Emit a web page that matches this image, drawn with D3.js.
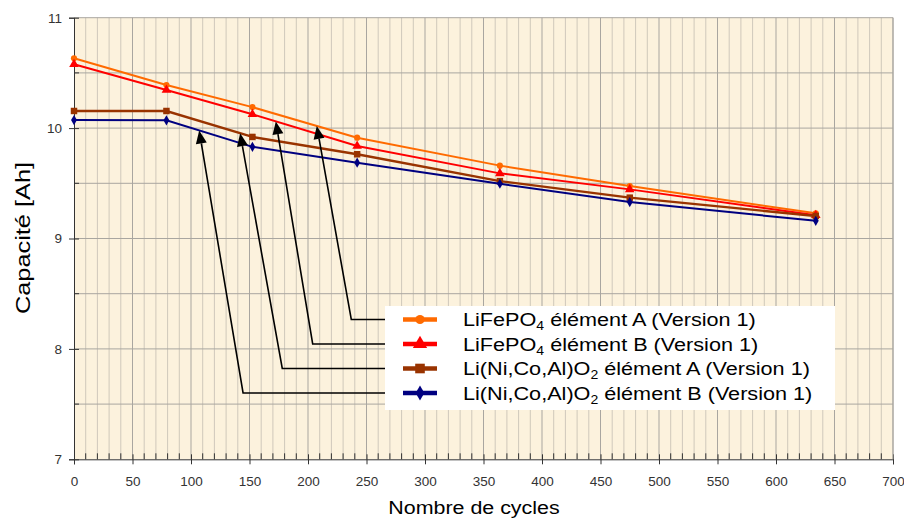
<!DOCTYPE html>
<html><head><meta charset="utf-8">
<script src="https://cdn.jsdelivr.net/npm/d3@7"></script>
<style>body{margin:0;background:#fff}svg{display:block}</style>
</head><body><svg id="c" width="904" height="520"></svg>
<script>
// ---- data ----
const cycles = [0, 79, 152.5, 242, 364, 475, 634];
const lfpA = [10.632, 10.39, 10.19, 9.913, 9.66, 9.475, 9.228];
const lfpB = [10.578, 10.345, 10.125, 9.838, 9.59, 9.445, 9.21];
const ncaA = [10.155, 10.155, 9.92, 9.763, 9.52, 9.37, 9.204];
const ncaB = [10.073, 10.07, 9.83, 9.687, 9.496, 9.33, 9.16];
const labelParts = [
  ["LiFePO", "4", " élément A (Version 1)"],
  ["LiFePO", "4", " élément B (Version 1)"],
  ["Li(Ni,Co,Al)O", "2", " élément A (Version 1)"],
  ["Li(Ni,Co,Al)O", "2", " élément B (Version 1)"]
];
const xTicks = [0,50,100,150,200,250,300,350,400,450,500,550,600,650,700];
const yTicks = [7,8,9,10,11];
const arrowTipCycles = [207.5, 172.5, 142, 107];
const arrowElbowCycles = [237, 204, 178, 144.5];

// ---- styles ----
const colors = ["#ff6a00", "#ff0000", "#993300", "#000080"];
const widths = [2, 2, 2.4, 2];
const symbols = [d3.symbolCircle, d3.symbolTriangle, d3.symbolSquare, d3.symbolDiamond];
const symSizes = [30, 40, 42, 30];
const series = [lfpA, lfpB, ncaA, ncaB];

const svg = d3.select("#c");
const W = 904, H = 520;
const x = d3.scaleLinear().domain([0, 700]).range([74, 893]);
const y = d3.scaleLinear().domain([7, 11]).range([459.3, 17.7]);
const font = "'Liberation Sans', Arial, sans-serif";
const SX = 1.17;

svg.append("rect").attr("width", W).attr("height", H).attr("fill", "#fff");
svg.append("rect").attr("x", x(0)).attr("y", y(11)).attr("width", x(700) - x(0)).attr("height", y(7) - y(11)).attr("fill", "#fcf2dd");

// grid
const g = svg.append("g");
g.selectAll("line.vmin").data(d3.range(10, 700, 10).filter(v => v % 50 !== 0)).join("line")
  .attr("x1", d => x(d)).attr("x2", d => x(d)).attr("y1", y(11)).attr("y2", y(7))
  .attr("stroke", "#cfc8bb").attr("stroke-width", 1);
g.selectAll("line.vmaj").data(xTicks.filter(v => v > 0)).join("line")
  .attr("x1", d => x(d)).attr("x2", d => x(d)).attr("y1", y(11)).attr("y2", y(7))
  .attr("stroke", "#a9a6a0").attr("stroke-width", 1);
g.selectAll("line.h").data(d3.range(7.5, 11.01, 0.5)).join("line")
  .attr("x1", x(0)).attr("x2", x(700)).attr("y1", d => y(d)).attr("y2", d => y(d))
  .attr("stroke", "#a9a6a0").attr("stroke-width", 1);

// axes
const xAxis = svg.append("g").attr("transform", `translate(0,${y(7)})`)
  .call(d3.axisBottom(x).tickValues(xTicks).tickSize(5).tickPadding(12).tickFormat(d3.format("d")));
xAxis.selectAll(".tick line").attr("y1", -5);
xAxis.append("g").selectAll("line").data(d3.range(10, 700, 10).filter(v => v % 50 !== 0)).join("line")
  .attr("x1", d => x(d)).attr("x2", d => x(d)).attr("y1", -6).attr("y2", 0).attr("stroke", "#333");
const yAxis = svg.append("g").attr("transform", `translate(${x(0)},0)`)
  .call(d3.axisLeft(y).tickValues(yTicks).tickSize(5).tickPadding(7).tickFormat(d3.format("d")));
yAxis.selectAll(".tick line").attr("x1", 5);
yAxis.append("g").selectAll("line").data([7.5, 8.5, 9.5, 10.5]).join("line")
  .attr("x1", 0).attr("x2", 5).attr("y1", d => y(d)).attr("y2", d => y(d)).attr("stroke", "#333");
[xAxis, yAxis].forEach(a => {
  a.select(".domain").attr("stroke", "#333");
  a.selectAll(".tick line").attr("stroke", "#333");
  a.selectAll("text").attr("font-family", font).attr("font-size", 13.5).attr("fill", "#333");
});
svg.append("line").attr("x1", x(700)).attr("x2", x(700)).attr("y1", y(11)).attr("y2", y(7)).attr("stroke", "#a9a6a0");

// series
const line = d3.line().x((d, i) => x(cycles[i])).y(d => y(d));
series.forEach((s, k) => {
  svg.append("path").attr("d", line(s)).attr("fill", "none").attr("stroke", colors[k]).attr("stroke-width", widths[k]);
  svg.append("g").selectAll("path").data(s).join("path")
    .attr("transform", (d, i) => `translate(${x(cycles[i])},${y(d)})`)
    .attr("d", d3.symbol(symbols[k], symSizes[k])).attr("fill", colors[k]);
});

// legend
const L = {x: 385, y: 306, w: 450, h: 104, row0: 319.5, step: 24.5};
svg.append("rect").attr("x", L.x).attr("y", L.y).attr("width", L.w).attr("height", L.h).attr("fill", "#fff");
labelParts.forEach((p, k) => {
  const cy = L.row0 + k * L.step;
  svg.append("line").attr("x1", 403).attr("x2", 437).attr("y1", cy).attr("y2", cy)
    .attr("stroke", colors[k]).attr("stroke-width", 4.5);
  svg.append("path").attr("transform", `translate(420,${cy})`).attr("d", d3.symbol(symbols[k], symSizes[k] * 2.2)).attr("fill", colors[k]);
  const t = svg.append("text").attr("transform", `translate(463,${cy + 6.5}) scale(${SX},1)`)
    .attr("font-family", font).attr("font-size", 18.5).attr("fill", "#000");
  t.append("tspan").text(p[0]);
  t.append("tspan").attr("font-size", 12).attr("dy", 4).text(p[1]);
  t.append("tspan").attr("dy", -4).text(p[2]);
});

// arrows
function interp(s, c) {
  const i = d3.bisectRight(cycles, c) - 1;
  const t = (c - cycles[i]) / (cycles[i + 1] - cycles[i]);
  return s[i] + t * (s[i + 1] - s[i]);
}
series.forEach((s, k) => {
  const cy = L.row0 + k * L.step;
  const ex = x(arrowElbowCycles[k]);
  const tx = x(arrowTipCycles[k]), ty = y(interp(s, arrowTipCycles[k]));
  const ang = Math.atan2(ty - cy, tx - ex);
  const hl = 13, hw = 5.5;
  const bx = tx - hl * Math.cos(ang), by = ty - hl * Math.sin(ang);
  svg.append("path").attr("d", `M${L.x},${cy}L${ex},${cy}L${bx},${by}`)
    .attr("fill", "none").attr("stroke", "#000").attr("stroke-width", 1.6);
  const px = -Math.sin(ang), py = Math.cos(ang);
  svg.append("path").attr("d", `M${tx},${ty}L${bx + px * hw},${by + py * hw}L${bx - px * hw},${by - py * hw}Z`).attr("fill", "#000");
});

// titles
svg.append("text").attr("transform", `translate(474,514) scale(1.19,1)`).attr("text-anchor", "middle")
  .attr("font-family", font).attr("font-size", 18).text("Nombre de cycles");
svg.append("text").attr("transform", `translate(30,238) rotate(-90)`).attr("text-anchor", "middle")
  .attr("font-family", font).attr("font-size", 21).attr("textLength", 152).attr("lengthAdjust", "spacingAndGlyphs")
  .text("Capacité [Ah]");
</script></body></html>
